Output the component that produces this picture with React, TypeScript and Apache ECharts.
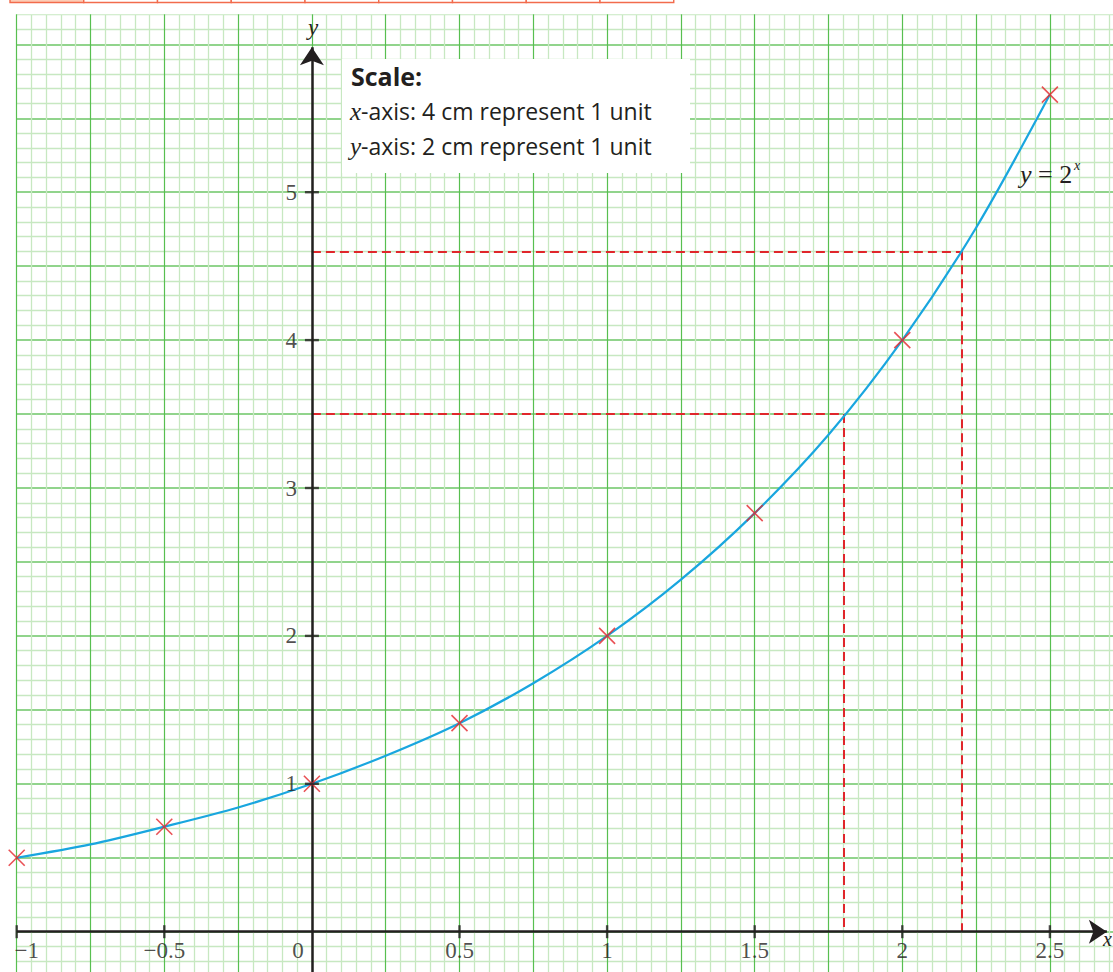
import React, { useEffect, useRef } from 'react';
import * as echarts from 'echarts';

// ---- data ----
// table of values (marked with crosses)
const tableX = [-1, -0.5, 0, 0.5, 1, 1.5, 2, 2.5];
const tableY = [0.5, 0.71, 1, 1.41, 2, 2.83, 4, 5.66];
// points
const curveX = [-1, -0.75, -0.5, -0.25, 0, 0.25, 0.5, 0.75, 1, 1.25, 1.5, 1.75, 2, 2.25, 2.5];
const curveY = [0.5, 0.59, 0.71, 0.84, 1, 1.19, 1.41, 1.68, 2, 2.38, 2.83, 3.36, 4, 4.76, 5.66];
const xTickValues = [-1, -0.5, 0, 0.5, 1, 1.5, 2, 2.5];
const xTickLabels = ['−1', '−0.5', '0', '0.5', '1', '1.5', '2', '2.5'];
const yTickValues = [1, 2, 3, 4, 5];
const yTickLabels = ['1', '2', '3', '4', '5'];
const readX = [1.8, 2.2];
const readY = [3.5, 4.6];
const xAxisRange = [-1, 2.693];
const yAxisRange = [-0.5, 5.98];
const scaleTitle = 'Scale:';
const scaleLines = [
  ['x', '-axis: 4 cm represent 1 unit'],
  ['y', '-axis: 2 cm represent 1 unit'],
];

// ---- layout ----
const OY = 40; // chart div is shifted up by this many pixels
const PX = 295.2;
const PY = 147.9;
const GRID_LEFT = 16.7;
const GRID_TOP = 931.7 - 6.5 * PY + OY;

const INK = '#231f20';
const SERIF = '"Liberation Serif", "Times New Roman", serif';
const SANS = '"Open Sans", Lato, sans-serif';

export default function App() {
  const ref = useRef<HTMLDivElement>(null);
  useEffect(() => {
    if (!ref.current) return;
    const chart = echarts.init(ref.current, undefined, { renderer: 'svg' });

    const marks = tableX.map((x, i) => [x, tableY[i]]);
    const curve = curveX.map((x, i) => [x, curveY[i]]);
    const dashed: any[] = [];
    readX.forEach((rx, i) => {
      const ry = readY[i];
      dashed.push({ coords: [[0, ry], [rx, ry]] });
      dashed.push({ coords: [[rx, ry], [rx, 0]] });
    });

    const cellW = 73.75;
    const strip: any[] = [];
    for (let i = 0; i < 9; i++) {
      strip.push({
        type: 'rect',
        z: 101,
        shape: { x: 10 + i * cellW, y: OY - 30, width: cellW, height: 32.5 },
        style: { fill: i === 0 ? '#fcccb6' : '#ffffff', stroke: '#f26b4c', lineWidth: 1.4 },
      });
    }

    const option: any = {
      animation: false,
      grid: {
        left: GRID_LEFT,
        top: GRID_TOP,
        width: 3.75 * PX,
        height: 7 * PY,
        containLabel: false,
        outerBoundsMode: 'none',
      },
      xAxis: {
        type: 'value',
        min: -1,
        max: 2.75,
        interval: 0.25,
        axisLine: { show: false },
        axisTick: { show: false },
        axisLabel: { show: false },
        splitLine: { show: true, lineStyle: { color: '#58bf50', width: 1.2 } },
        minorTick: { show: false, splitNumber: 5 },
        minorSplitLine: { show: true, lineStyle: { color: '#c7e8c1', width: 1.3 } },
      },
      yAxis: {
        type: 'value',
        min: -0.5,
        max: 6.5,
        interval: 0.5,
        axisLine: { show: false },
        axisTick: { show: false },
        axisLabel: { show: false },
        splitLine: { show: true, lineStyle: { color: '#6cc666', width: 1.6 } },
        minorTick: { show: false, splitNumber: 5 },
        minorSplitLine: { show: true, lineStyle: { color: '#c7e8c1', width: 1.3 } },
      },
      series: [
        {
          type: 'lines',
          coordinateSystem: 'cartesian2d',
          z: 3,
          symbol: 'none',
          lineStyle: { color: '#e0262b', width: 2, type: [9, 5], opacity: 1 },
          data: dashed,
        },
        {
          type: 'lines',
          coordinateSystem: 'cartesian2d',
          z: 4,
          symbol: ['none', 'arrow'],
          symbolSize: [18, 18],
          lineStyle: { color: INK, width: 2.5, opacity: 1 },
          data: [
            { coords: [[xAxisRange[0], 0], [xAxisRange[1], 0]] },
            { coords: [[0, yAxisRange[0]], [0, yAxisRange[1]]] },
          ],
        },
        {
          type: 'line',
          z: 5,
          smooth: 0.3,
          symbol: 'none',
          lineStyle: { color: '#19a6df', width: 2.2 },
          data: curve,
        },
        {
          type: 'scatter',
          z: 6,
          symbol: 'path://M0 0L10 10M10 0L0 10',
          symbolSize: 16,
          itemStyle: { color: 'rgba(0,0,0,0)', borderColor: '#e3262b', borderWidth: 1.6 },
          data: marks,
        },
        {
          type: 'scatter',
          z: 7,
          symbol: 'rect',
          symbolSize: [2.4, 13],
          itemStyle: { color: INK },
          label: {
            show: true,
            position: 'bottom',
            distance: 1,
            color: INK,
            fontFamily: SERIF,
            fontSize: 23,
            formatter: (p: any) => xTickLabels[p.dataIndex],
          },
          data: xTickValues.map((v, i) => {
            const item: any = { value: [v, 0] };
            if (i === 0) item.label = { offset: [10, 0] };
            if (v === 0) {
              item.label = { offset: [-14, 0] };
              item.itemStyle = { color: 'rgba(0,0,0,0)' };
            }
            return item;
          }),
        },
        {
          type: 'scatter',
          z: 7,
          symbol: 'rect',
          symbolSize: [14, 2.4],
          itemStyle: { color: INK },
          label: {
            show: true,
            position: 'left',
            distance: 8,
            color: INK,
            fontFamily: SERIF,
            fontSize: 23,
            formatter: (p: any) => yTickLabels[p.dataIndex],
          },
          data: yTickValues.map((v) => [0, v]),
        },
      ],
      graphic: [
        // white paper above the grid
        { type: 'rect', z: 100, shape: { x: 0, y: 0, width: 1200, height: 14.3 + OY }, style: { fill: '#ffffff' } },
        ...strip,
        // scale box
        { type: 'rect', z: 100, shape: { x: 342, y: 59 + OY, width: 348, height: 114 }, style: { fill: '#ffffff' } },
        {
          type: 'text', z: 102, x: 351, y: 76 + OY,
          style: { text: scaleTitle, fill: INK, font: `bold 25px ${SANS}`, verticalAlign: 'middle' },
        },
        ...scaleLines.map((ln, i) => ({
          type: 'text', z: 102, x: 350, y: 111 + i * 35 + OY,
          style: {
            text: `{i|${ln[0]}}{n|${ln[1]}}`,
            verticalAlign: 'middle',
            rich: {
              i: { fontFamily: SERIF, fontStyle: 'italic', fontSize: 25, fill: INK, color: INK },
              n: { fontFamily: SANS, fontSize: 23, fill: INK, color: INK },
            },
          },
        })),
        // axis names
        {
          type: 'text', z: 102, x: 313, y: 27 + OY,
          style: { text: 'y', fill: INK, font: `italic 23px ${SERIF}`, align: 'center', verticalAlign: 'middle' },
        },
        {
          type: 'text', z: 102, x: 1103, y: 939 + OY,
          style: { text: 'x', fill: INK, font: `italic 20px ${SERIF}`, align: 'left', verticalAlign: 'middle' },
        },
        // curve label
        {
          type: 'text', z: 102, x: 1020, y: 174 + OY,
          style: {
            text: '{i|y} {n|=} {n|2}',
            verticalAlign: 'middle',
            rich: {
              i: { fontFamily: SERIF, fontStyle: 'italic', fontSize: 26, fill: INK, color: INK },
              n: { fontFamily: SERIF, fontSize: 26, fill: INK, color: INK },
            },
            font: `26px ${SERIF}`,
            fill: INK,
          },
        },
        {
          type: 'text', z: 102, x: 1074, y: 165 + OY,
          style: { text: 'x', fill: INK, font: `italic 14px ${SERIF}`, align: 'left', verticalAlign: 'middle' },
        },
      ],
    };

    chart.setOption(option);
    return () => chart.dispose();
  }, []);

  return (
    <div style={{ position: 'absolute', left: 0, top: 0, width: 1113, height: 972, overflow: 'hidden', background: '#fff' }}>
      <div ref={ref} style={{ position: 'absolute', left: 0, top: -OY, width: 1130, height: 1060 }} />
    </div>
  );
}
